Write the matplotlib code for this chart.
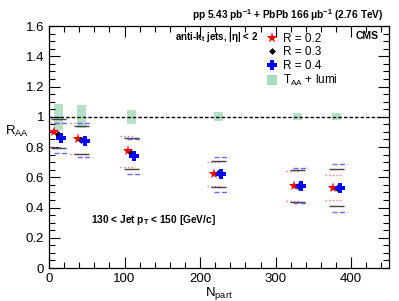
import numpy as np
import matplotlib
matplotlib.use('Agg')
import matplotlib.pyplot as plt
from matplotlib.ticker import MultipleLocator

plt.rcParams['font.family'] = ['Liberation Sans', 'DejaVu Sans']
plt.rcParams['mathtext.fontset'] = 'custom'
plt.rcParams['mathtext.rm'] = 'Liberation Sans'
plt.rcParams['mathtext.it'] = 'Liberation Sans:italic'
plt.rcParams['mathtext.bf'] = 'Liberation Sans:bold'

# centrality bins (Npart)
npart = [12, 43, 109, 224, 329, 381]

# R_AA central values
raa_r02 = [0.90, 0.853, 0.776, 0.620, 0.542, 0.529]
raa_r03 = [0.886, 0.846, 0.762, 0.628, 0.544, 0.530]
raa_r04 = [0.860, 0.840, 0.740, 0.620, 0.545, 0.531]

# systematic bands (upper / lower)
sys_hi_r02 = [0.960, 0.958, 0.873, 0.700, 0.643, 0.613]
sys_lo_r02 = [0.800, 0.755, 0.670, 0.542, 0.441, 0.448]
sys_hi_r03 = [0.983, 0.939, 0.857, 0.710, 0.648, 0.653]
sys_lo_r03 = [0.795, 0.752, 0.652, 0.533, 0.434, 0.410]
sys_hi_r04 = [0.956, 0.956, 0.855, 0.732, 0.659, 0.688]
sys_lo_r04 = [0.758, 0.736, 0.620, 0.505, 0.428, 0.370]

# T_AA + lumi uncertainty (half height of box around 1)
taa_unc = [0.085, 0.075, 0.045, 0.03, 0.022, 0.022]


def main():
    fig = plt.figure(figsize=(3.99, 3.01), dpi=100)
    ax = fig.add_axes([0.1228, 0.1096, 0.852, 0.804])

    x = np.array(npart, dtype=float)

    # T_AA boxes
    for xi, u in zip(x, taa_unc):
        ax.add_patch(plt.Rectangle((xi - 6, 1 - u), 12, 2 * u, facecolor='#a9dbbd',
                                   edgecolor='none', alpha=0.85, zorder=1))
    ax.axhline(1.0, color='black', ls=(0, (2.5, 1.5)), lw=1.0, zorder=2)

    series = [
        (raa_r02, sys_hi_r02, sys_lo_r02, -5, 'red', '#ff7070', ':', '*', 8, 'R = 0.2'),
        (raa_r03, sys_hi_r03, sys_lo_r03, 0, 'black', '#444444', '-', 'D', 3.5, 'R = 0.3'),
        (raa_r04, sys_hi_r04, sys_lo_r04, 4, 'blue', '#6a6aff', '--', 'P', 7, 'R = 0.4'),
    ]
    handles = []
    for vals, hi, lo, dx, col, scol, ls, mk, ms, lab in series:
        xs = x + dx
        ax.hlines(hi, xs - 10, xs + 10, colors=scol, linestyles=ls, lw=1.0, zorder=3)
        ax.hlines(lo, xs - 10, xs + 10, colors=scol, linestyles=ls, lw=1.0, zorder=3)
        h, = ax.plot(xs, vals, ls='none', marker=mk, color=col, ms=ms, mew=0, zorder=4, label=lab)
        handles.append(h)
    box_h, = ax.plot([], [], ls='none', marker='s', color='#a9dbbd', ms=6.5, mew=0)
    handles.append(box_h)

    ax.legend(handles, ['R = 0.2', 'R = 0.3', 'R = 0.4', r'T$_{\rm AA}$ + lumi'],
              loc='upper left', bbox_to_anchor=(0.615, 1.01), frameon=False,
              fontsize=8.5, handlelength=0.8, handletextpad=0.5, labelspacing=0.12,
              borderpad=0.3)

    ax.set_xlim(0, 450)
    ax.set_ylim(0, 1.6)
    ax.xaxis.set_major_locator(MultipleLocator(100))
    ax.xaxis.set_minor_locator(MultipleLocator(20))
    ax.yaxis.set_major_locator(MultipleLocator(0.2))
    ax.yaxis.set_minor_locator(MultipleLocator(0.05))
    ax.yaxis.set_major_formatter(plt.FuncFormatter(lambda v, p: f'{v:g}'))
    ax.tick_params(which='both', direction='in', top=True, right=True, labelsize=9.5, width=0.8)
    ax.tick_params(which='major', length=8)
    ax.tick_params(which='minor', length=4)
    for s in ax.spines.values():
        s.set_linewidth(0.9)

    ax.set_xlabel(r'N$_{\rm part}$', fontsize=9.5, labelpad=0)
    ax.text(-0.095, 0.565, r'R$_{\rm AA}$', transform=ax.transAxes, fontsize=9.5,
            ha='center', va='center')

    fig.text(0.96, 0.95, r'pp 5.43 pb$^{\mathbf{-1}}$ + PbPb 166 $\mathbf{\mu}$b$^{\mathbf{-1}}$ (2.76 TeV)',
             ha='right', va='center', fontsize=7.3, fontweight='bold')
    ax.text(0.615, 0.955, r'anti-k$_{\mathbf{t}}$ jets, |$\mathbf{\eta}$| < 2', transform=ax.transAxes,
            ha='right', va='center', fontsize=7, fontweight='bold')
    ax.text(0.935, 0.96, 'CMS', transform=ax.transAxes, ha='center', va='center',
            fontsize=7.5, fontweight='bold')
    ax.text(0.125, 0.2, r'130 < Jet p$_{\mathbf{T}}$ < 150 [GeV/c]', transform=ax.transAxes,
            ha='left', va='center', fontsize=7.3, fontweight='bold')

    fig.savefig('out.png', dpi=100)


if __name__ == '__main__':
    main()
